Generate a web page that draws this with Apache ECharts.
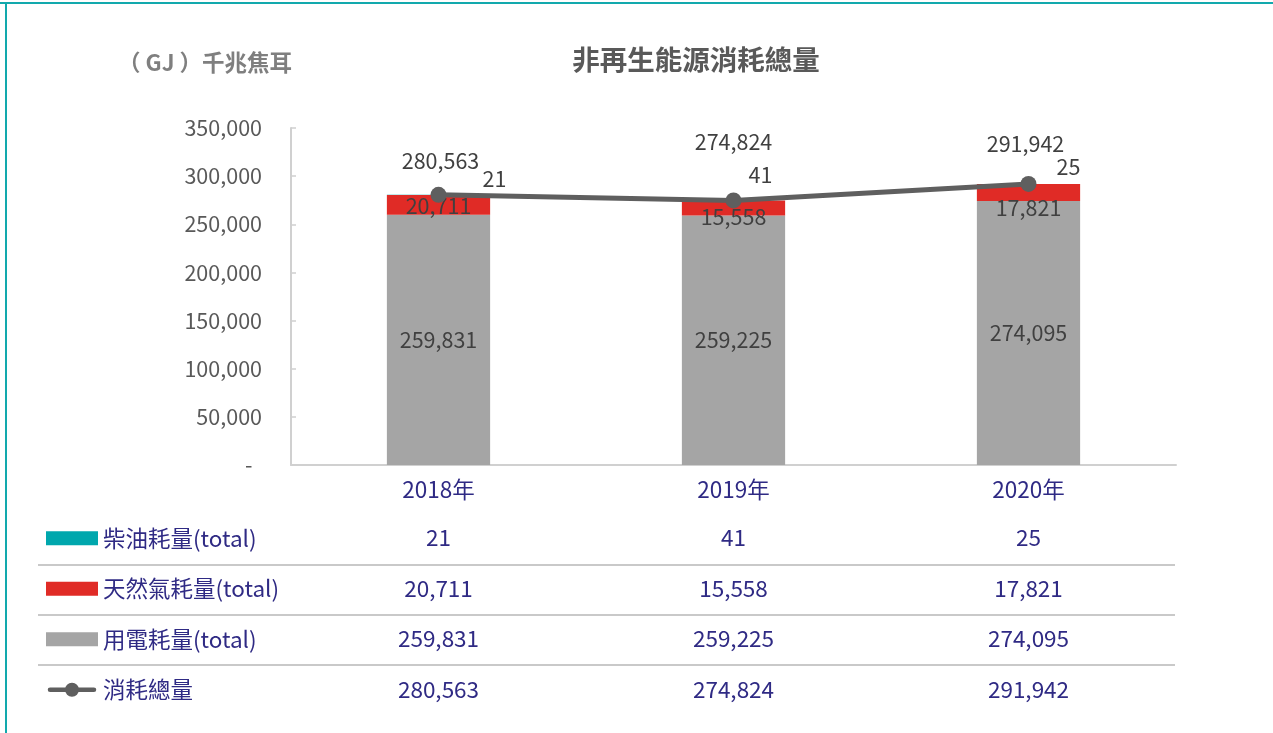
<!DOCTYPE html>
<html>
<head>
<meta charset="utf-8">
<title>非再生能源消耗總量</title>
<script src="https://cdn.jsdelivr.net/npm/echarts@6/dist/echarts.min.js"></script>
<style>
  html, body { margin: 0; padding: 0; background: #ffffff; }
  #chart { width: 1273px; height: 733px; }
</style>
</head>
<body>
<div id="chart"></div>
<script>
// ---- data ----
const years = ['2018年', '2019年', '2020年'];
const dieselValues = [21, 41, 25];
const gasValues = [20711, 15558, 17821];
const electricityValues = [259831, 259225, 274095];
const totalValues = [280563, 274824, 291942];

const seriesNames = {
  diesel: '柴油耗量(total)',
  gas: '天然氣耗量(total)',
  electricity: '用電耗量(total)',
  total: '消耗總量'
};

// ---- label nudges (keep labels clear of the line and each other) ----
const dieselLabelOffsets = [[56, 0], [27, -10], [40, -1]];
const gasLabelOffsets = [[0, 1], [0, 9], [0, 15]];
const totalLabelOffsets = [[2, -10], [0, -35], [-3, -16]];

const FONT = "'Noto Sans CJK TC', 'Noto Sans', sans-serif";
const NAVY = '#2f2a84';
const LABEL = '#404040';
const NUM_SIZE = 21.5;
const NAVY_SIZE = 22.5;

const fmt = v => v.toLocaleString('en-US');

// legend glyph for the total line: thick rounded bar with a dot in the middle
const LINE_ICON = 'path://M2.5,5.5H49.5A2.5,2.5 0 0 1 49.5,10.5H2.5A2.5,2.5 0 0 1 2.5,5.5Z' +
  'M18.5,8A7.5,7.5 0 1 1 33.5,8A7.5,7.5 0 1 1 18.5,8Z';

function withOffsets(values, offsets) {
  return values.map((v, i) => ({ value: v, label: { offset: offsets[i] } }));
}

// table rows under the axis are drawn as extra category axes sharing the grid
function tableAxis(values, offset) {
  return {
    type: 'category',
    gridIndex: 0,
    position: 'bottom',
    offset: offset,
    data: values.map(fmt),
    axisLine: { show: false },
    axisTick: { show: false },
    axisLabel: { color: NAVY, fontSize: NAVY_SIZE, fontFamily: FONT, margin: 13 }
  };
}

const chart = echarts.init(document.getElementById('chart'), null, { renderer: 'canvas' });

const rowLine = y => ({
  type: 'line',
  shape: { x1: 38, y1: y, x2: 1175, y2: y },
  style: { stroke: '#c9c9c9', lineWidth: 2 },
  silent: true
});

chart.setOption({
  backgroundColor: '#ffffff',
  animation: false,
  textStyle: { fontFamily: FONT },
  grid: { left: 291, right: 97, top: 128, bottom: 268, containLabel: false },
  legend: {
    orient: 'vertical',
    left: 46,
    top: 527,
    padding: 0,
    itemWidth: 52,
    itemHeight: 14,
    itemGap: 28,
    data: [
      { name: seriesNames.diesel, icon: 'rect' },
      { name: seriesNames.gas, icon: 'rect' },
      { name: seriesNames.electricity, icon: 'rect' },
      { name: seriesNames.total, icon: LINE_ICON, itemStyle: { color: '#5f5f5f' } }
    ],
    textStyle: { color: NAVY, fontSize: NAVY_SIZE, fontFamily: FONT, lineHeight: 22 }
  },
  xAxis: [
    {
      type: 'category',
      data: years,
      axisLine: { show: true, lineStyle: { color: '#d0d0d0', width: 2 } },
      axisTick: { show: false },
      axisLabel: { color: NAVY, fontSize: NAVY_SIZE, fontFamily: FONT, margin: 13 }
    },
    tableAxis(dieselValues, 48),
    tableAxis(gasValues, 99),
    tableAxis(electricityValues, 149),
    tableAxis(totalValues, 200)
  ],
  yAxis: {
    type: 'value',
    min: 0,
    max: 350000,
    interval: 50000,
    axisLine: { show: true, lineStyle: { color: '#d0d0d0', width: 2 } },
    axisTick: { show: true, inside: true, length: 5, lineStyle: { color: '#d0d0d0', width: 1.5 } },
    splitLine: { show: false },
    axisLabel: {
      color: '#595959',
      fontSize: NUM_SIZE,
      fontFamily: FONT,
      margin: 29,
      formatter: v => (v === 0 ? '-  ' : fmt(v))
    }
  },
  series: [
    {
      name: seriesNames.electricity,
      type: 'bar',
      stack: 'energy',
      barWidth: '35%',
      itemStyle: { color: '#a5a5a5' },
      label: { show: true, position: 'inside', color: LABEL, fontSize: NUM_SIZE, fontFamily: FONT, formatter: p => fmt(p.value) },
      data: electricityValues
    },
    {
      name: seriesNames.gas,
      type: 'bar',
      stack: 'energy',
      itemStyle: { color: '#e02b26' },
      label: { show: true, position: 'inside', color: LABEL, fontSize: NUM_SIZE, fontFamily: FONT, formatter: p => fmt(p.value) },
      data: withOffsets(gasValues, gasLabelOffsets)
    },
    {
      name: seriesNames.diesel,
      type: 'bar',
      stack: 'energy',
      itemStyle: { color: '#00a7ad' },
      label: { show: true, position: 'top', color: LABEL, fontSize: NUM_SIZE, fontFamily: FONT, formatter: p => fmt(p.value) },
      data: withOffsets(dieselValues, dieselLabelOffsets)
    },
    {
      name: seriesNames.total,
      type: 'line',
      z: 5,
      symbol: 'circle',
      symbolSize: 16,
      itemStyle: { color: '#5f5f5f' },
      lineStyle: { color: '#5f5f5f', width: 5 },
      label: { show: true, position: 'top', color: LABEL, fontSize: NUM_SIZE, fontFamily: FONT, formatter: p => fmt(p.value) },
      data: withOffsets(totalValues, totalLabelOffsets)
    }
  ],
  graphic: [
    // frame edges
    { type: 'line', shape: { x1: 0, y1: 3, x2: 1273, y2: 3 }, style: { stroke: '#12a9ad', lineWidth: 2 }, silent: true },
    { type: 'line', shape: { x1: 6, y1: 3, x2: 6, y2: 733 }, style: { stroke: '#12a9ad', lineWidth: 2 }, silent: true },
    // headings
    {
      type: 'text',
      x: 696, y: 60,
      style: { text: '非再生能源消耗總量', fill: '#595959', font: 'bold 27.5px ' + FONT, align: 'center', verticalAlign: 'middle' }
    },
    {
      type: 'text',
      x: 205, y: 62,
      style: { text: '（ GJ ）千兆焦耳', fill: '#7f7f7f', font: 'bold 22.5px ' + FONT, align: 'center', verticalAlign: 'middle' }
    },
    // table row separators
    rowLine(565),
    rowLine(615),
    rowLine(665)
  ]
});
</script>
</body>
</html>
